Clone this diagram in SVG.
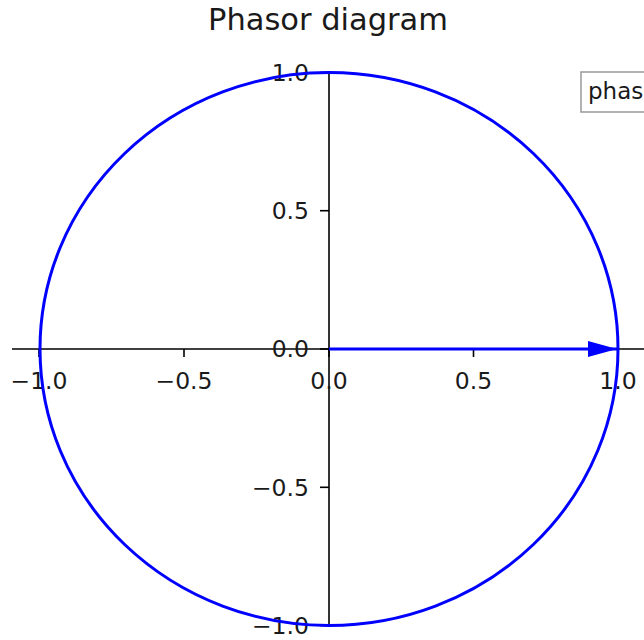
<svg xmlns="http://www.w3.org/2000/svg" width="644" height="640" viewBox="0 0 644 640">
<style>
  text { font-family: "DejaVu Sans", "Liberation Sans", sans-serif; fill: #1a1a1a; }
  .tick { font-size: 23.5px; }
  .xl { text-anchor: middle; }
  .yl { text-anchor: end; }
  .ax { stroke: #000; stroke-width: 1.6; fill: none; }
  .tk { stroke: #000; stroke-width: 1.6; }
</style>
<defs>
  <marker id="ah" markerUnits="userSpaceOnUse" markerWidth="30" markerHeight="16" refX="29" refY="8" orient="auto">
    <path d="M0,0 L29,8 L0,16 Z" fill="#0000ff"/>
  </marker>
</defs>
<rect x="0" y="0" width="644" height="640" fill="#ffffff"/>
<text id="title" x="328" y="30" style="font-size:30.5px" text-anchor="middle">Phasor diagram</text>
<g id="axes">
  <line class="ax" x1="12" y1="349" x2="644" y2="349"/>
  <line class="ax" x1="329" y1="72" x2="329" y2="626"/>
  <g id="xticks">
    <line class="tk" x1="39" y1="349" x2="39" y2="357"/>
    <line class="tk" x1="184" y1="349" x2="184" y2="357"/>
    <line class="tk" x1="329" y1="349" x2="329" y2="357"/>
    <line class="tk" x1="473.5" y1="349" x2="473.5" y2="357"/>
    <line class="tk" x1="618" y1="349" x2="618" y2="357"/>
    <text class="tick xl" x="39" y="389">−1.0</text>
    <text class="tick xl" x="184" y="389">−0.5</text>
    <text class="tick xl" x="329" y="389">0.0</text>
    <text class="tick xl" x="473.5" y="389">0.5</text>
    <text class="tick xl" x="618" y="389">1.0</text>
  </g>
  <g id="yticks">
    <line class="tk" x1="320" y1="72.5" x2="329" y2="72.5"/>
    <line class="tk" x1="320" y1="210.7" x2="329" y2="210.7"/>
    <line class="tk" x1="320" y1="349" x2="329" y2="349"/>
    <line class="tk" x1="320" y1="487.3" x2="329" y2="487.3"/>
    <line class="tk" x1="320" y1="625.5" x2="329" y2="625.5"/>
    <text class="tick yl" x="309" y="81">1.0</text>
    <text class="tick yl" x="309" y="219">0.5</text>
    <text class="tick yl" x="309" y="357">0.0</text>
    <text class="tick yl" x="309" y="496">−0.5</text>
    <text class="tick yl" x="309" y="634">−1.0</text>
  </g>
</g>
<g id="connectors">
  <line x1="329" y1="349" x2="617" y2="349" stroke="#0000ff" stroke-width="2.8" marker-end="url(#ah)"/>
</g>
<g id="circle">
  <ellipse cx="329" cy="349" rx="289" ry="276.5" fill="none" stroke="#0000ff" stroke-width="3"/>
</g>
<g id="legend">
  <rect x="581" y="72" width="80" height="40" fill="#ffffff" stroke="#999999" stroke-width="1.5"/>
  <text x="588" y="99" style="font-size:23px">phas</text>
</g>
</svg>
